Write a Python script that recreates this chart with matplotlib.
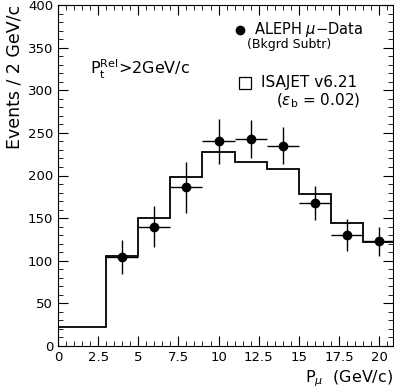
import numpy as np
import matplotlib.pyplot as plt
from matplotlib.ticker import MultipleLocator

# ISAJET histogram (bin edges and contents)
mc_edges = [0, 3, 5, 7, 9, 11, 13, 15, 17, 19, 21]
mc_counts = [22, 105, 150, 198, 227, 216, 208, 178, 144, 122]

# ALEPH data points
data_x = [4, 6, 8, 10, 12, 14, 16, 18, 20]
data_y = [104, 140, 186, 240, 243, 235, 168, 130, 123]
data_err = [20, 24, 30, 26, 22, 22, 20, 19, 17]
data_xerr = [1, 1, 1, 1, 1, 1, 1, 1, 1]

fig = plt.figure(figsize=(3.94, 3.90), dpi=100)
ax = fig.add_axes([0.147, 0.113, 0.850, 0.874])

ax.stairs(mc_counts, mc_edges, color='black', linewidth=1.3, baseline=None)
ax.errorbar(data_x, data_y, yerr=data_err, xerr=data_xerr, fmt='o', color='black',
            markersize=6, elinewidth=1.0, capsize=0)

ax.set_xlim(0, 20.85)
ax.set_ylim(0, 400)
ax.xaxis.set_major_locator(MultipleLocator(2.5))
ax.xaxis.set_minor_locator(MultipleLocator(0.5))
ax.yaxis.set_major_locator(MultipleLocator(50))
ax.yaxis.set_minor_locator(MultipleLocator(10))
ax.tick_params(which='both', direction='in', top=True, right=True, labelsize=9.5)
ax.tick_params(which='major', length=7)
ax.tick_params(which='minor', length=3.5)
ax.set_xticks([0, 2.5, 5, 7.5, 10, 12.5, 15, 17.5, 20])
ax.set_xticklabels(['0', '2.5', '5', '7.5', '10', '12.5', '15', '17.5', '20'])

ax.set_ylabel('Events / 2 GeV/c', fontsize=12.5, labelpad=3, loc='top')
ax.set_xlabel(r'P$_\mu$  (GeV/c)', fontsize=11.5, loc='right', labelpad=3)

ax.text(0.095, 0.81, r'P$_{\mathrm{t}}^{\mathrm{Rel}}$>2GeV/c', transform=ax.transAxes,
        fontsize=11.5, va='center')

# legend
ax.plot([0.545], [0.927], 'o', color='black', markersize=6, transform=ax.transAxes)
ax.text(0.585, 0.927, r'ALEPH $\mu$$-$Data', transform=ax.transAxes, fontsize=10.5, va='center')
ax.text(0.565, 0.884, '(Bkgrd Subtr)', transform=ax.transAxes, fontsize=9, va='center')
ax.plot([0.558], [0.772], 's', markersize=9, markerfacecolor='white', markeredgecolor='black',
        markeredgewidth=0.9, transform=ax.transAxes)
ax.text(0.605, 0.774, 'ISAJET v6.21', transform=ax.transAxes, fontsize=11, va='center')
ax.text(0.65, 0.718, r'($\varepsilon_{\mathrm{b}}$ = 0.02)', transform=ax.transAxes, fontsize=11, va='center')

fig.savefig('out.png', dpi=100)
